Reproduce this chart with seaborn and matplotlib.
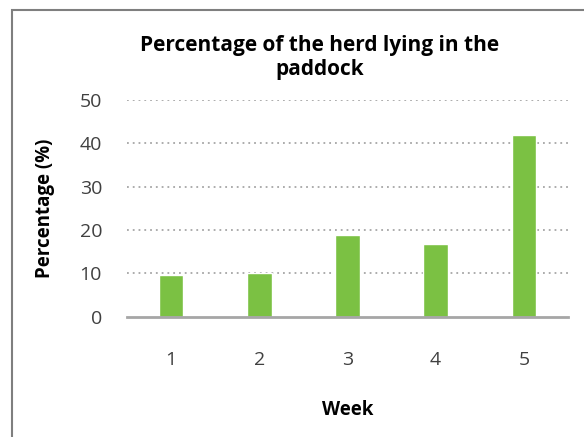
import seaborn as sns
import matplotlib.pyplot as plt
import pandas as pd
from matplotlib.patches import Rectangle

# data
weeks = ["1", "2", "3", "4", "5"]
percent_lying = [9.7, 10.1, 18.9, 16.8, 42.0]
y_ticks = [0, 10, 20, 30, 40, 50]

sns.set_style("white")
plt.rcParams['font.family'] = ['Open Sans', 'DejaVu Sans']

data = pd.DataFrame({"Week": weeks, "Percentage": percent_lying})

fig = plt.figure(figsize=(5.84, 4.37), dpi=100)
ax = fig.add_axes([0.2175, 0.2757, 0.755, 0.4955])

sns.barplot(data=data, x="Week", y="Percentage", color="#7BC143",
            width=0.28, saturation=1, ax=ax, zorder=3)

ax.set_ylim(0, 50)
ax.set_yticks(y_ticks)
ax.set_xlim(-0.5, 4.5)
for y in y_ticks[1:]:
    ax.axhline(y, color="#a6a6a6", linestyle=(0, (1, 2.2)), linewidth=1.3, zorder=1)

for s in ["top", "right", "left"]:
    ax.spines[s].set_visible(False)
ax.spines["bottom"].set_color("#a6a6a6")
ax.spines["bottom"].set_linewidth(2)
ax.spines["bottom"].set_zorder(4)
ax.tick_params(axis="both", length=0, labelsize=14, colors="#404040")
ax.tick_params(axis="x", pad=25)
ax.tick_params(axis="y", pad=18)

ax.set_xlabel("Week", fontsize=13.5, fontweight="bold", color="black", labelpad=22)
ax.set_ylabel("Percentage (%)", fontsize=13.5, fontweight="bold", color="black", labelpad=18)
fig.text(0.548, 0.868, "Percentage of the herd lying in the\npaddock", ha="center", va="center",
         fontsize=15, fontweight="bold", color="black", linespacing=1.2)

# outer frame (cut off at right and bottom)
fig.patches.append(Rectangle((12 / 584, -0.1), 1.2, 1.1 - 10 / 437,
                             transform=fig.transFigure, fill=False,
                             edgecolor="#7f7f7f", linewidth=1.5))

fig.savefig("out.png", dpi=100)
